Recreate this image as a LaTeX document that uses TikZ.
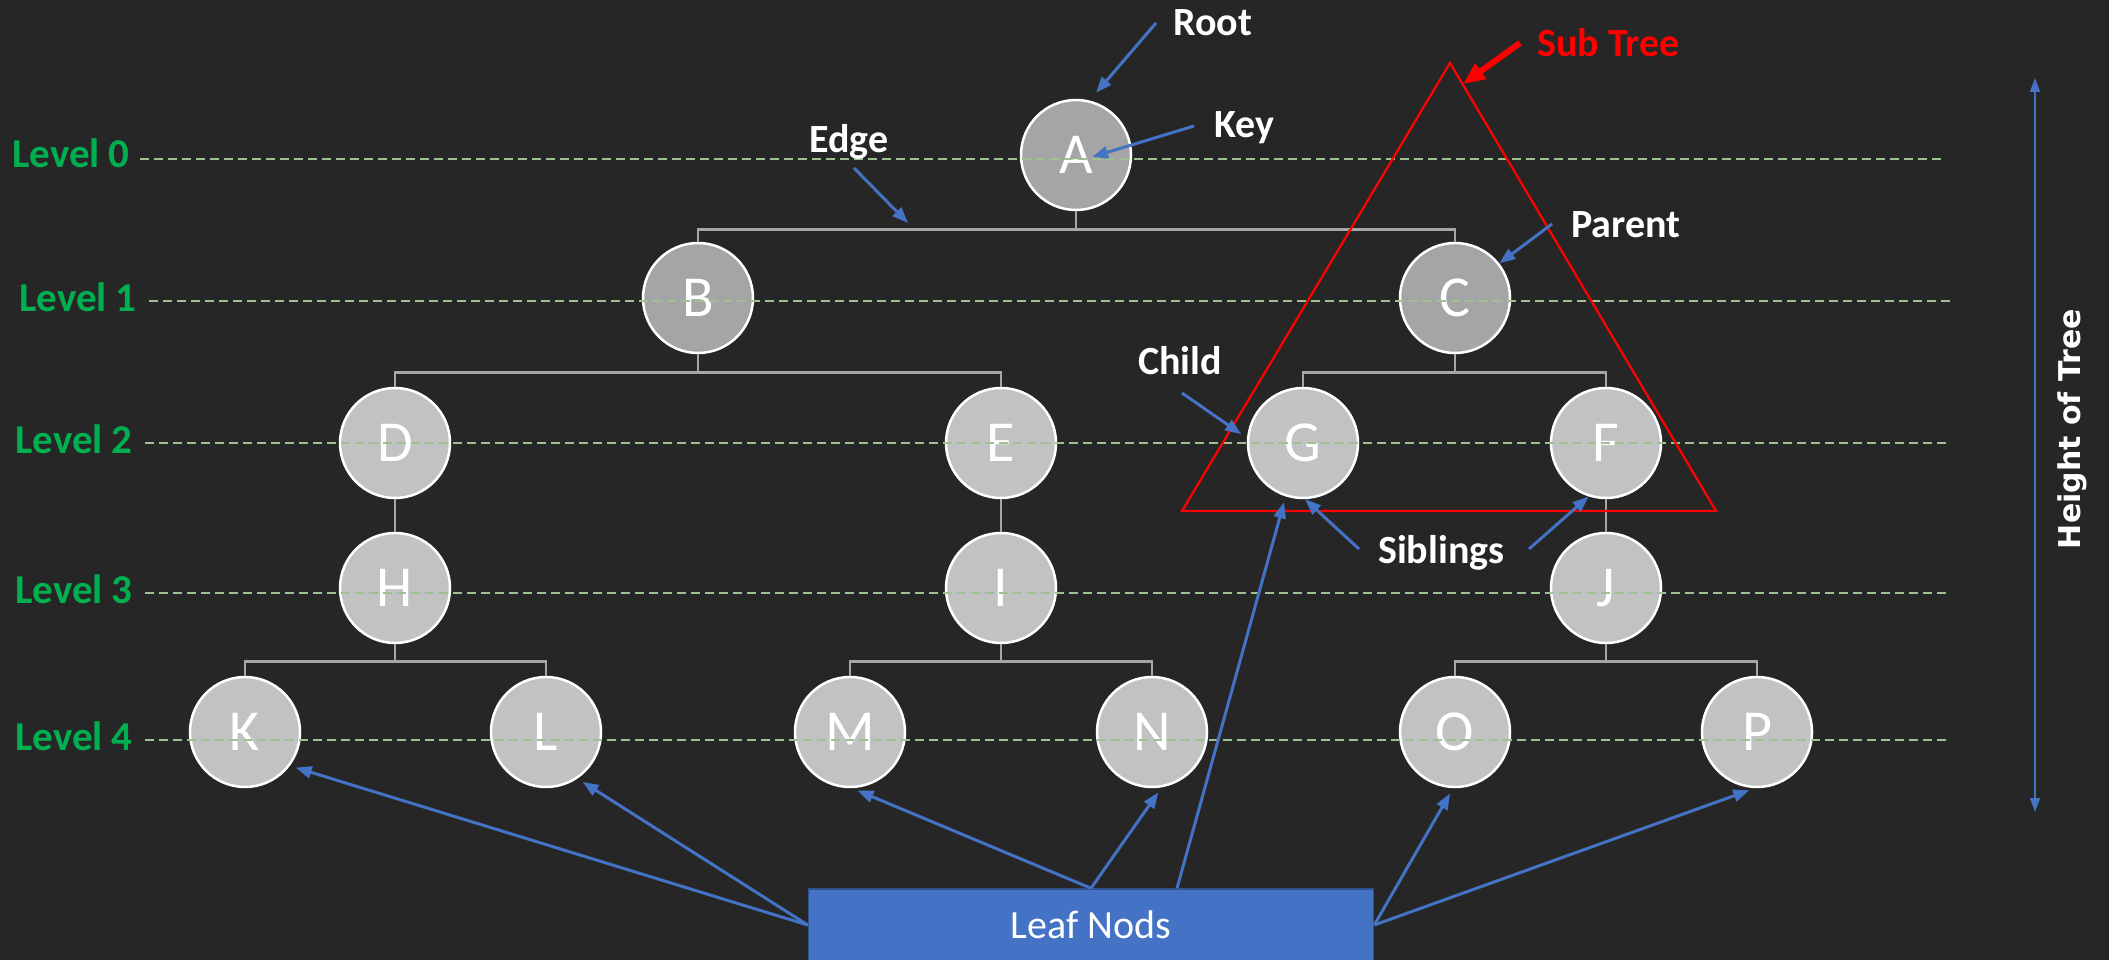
\documentclass[tikz,border=0pt]{standalone}
\usepackage{fontspec}
\setmainfont{Carlito}
\newfontfamily\htfont{DejaVu Sans}
\usetikzlibrary{arrows.meta,calc}
\definecolor{bg}{HTML}{262626}
\definecolor{annblue}{HTML}{4472C4}
\definecolor{lvlgreen}{HTML}{00B050}
\definecolor{dashgreen}{HTML}{9CC38F}
\definecolor{branchgray}{HTML}{A6A6A6}
\definecolor{darkfill}{HTML}{A5A5A5}
\definecolor{lightfill}{HTML}{C2C2C2}
\definecolor{boxblue}{HTML}{4472C4}
\definecolor{boxedge}{HTML}{2F528F}
\tikzset{
  tnode/.style={circle, minimum size=110pt, inner sep=0pt, draw=white, line width=2.5pt,
    fill=lightfill, text=white, font=\fontsize{58}{58}\selectfont},
  tnodedark/.style={tnode, fill=darkfill},
  branch/.style={draw=branchgray, line width=2.5pt},
  levelline/.style={draw=dashgreen, line width=1.3pt, dash pattern=on 9pt off 5pt},
  lvllabel/.style={anchor=base east, inner sep=0pt, text=lvlgreen, font=\fontsize{41}{41}\selectfont\bfseries},
  annlabel/.style={anchor=base west, inner sep=0pt, text=white, font=\fontsize{40}{40}\selectfont\bfseries},
  ann/.style={draw=annblue, line width=3pt, -{Triangle[length=16pt,width=12pt]}},
  leafarrow/.style={ann, shorten >=6pt},
}
\begin{document}
\begin{tikzpicture}[x=1pt,y=-1pt]
\fill[bg] (0,0) rectangle (2109,960);
\useasboundingbox (0,0) rectangle (2109,960);

% tree nodes
\node[tnodedark] (A) at (1076,155) {A};
\node[tnodedark] (B) at (698,298) {B};
\node[tnodedark] (C) at (1455,298) {C};
\node[tnode] (D) at (395,443) {D};
\node[tnode] (E) at (1001,443) {E};
\node[tnode] (G) at (1303,443) {G};
\node[tnode] (F) at (1606,443) {F};
\node[tnode] (H) at (395,588) {H};
\node[tnode] (I) at (1001,588) {I};
\node[tnode] (J) at (1606,588) {J};
\node[tnode] (K) at (245,732) {K};
\node[tnode] (L) at (546,732) {L};
\node[tnode] (M) at (850,732) {M};
\node[tnode] (N) at (1152,732) {N};
\node[tnode] (O) at (1455,732) {O};
\node[tnode] (P) at (1757,732) {P};

% branches
\draw[branch] (A.south) -- ++(0,18) -| (B.north);
\draw[branch] (A.south) -- ++(0,18) -| (C.north);
\draw[branch] (B.south) -- ++(0,18) -| (D.north);
\draw[branch] (B.south) -- ++(0,18) -| (E.north);
\draw[branch] (C.south) -- ++(0,18) -| (G.north);
\draw[branch] (C.south) -- ++(0,18) -| (F.north);
\draw[branch] (D.south) -- (H.north);
\draw[branch] (E.south) -- (I.north);
\draw[branch] (F.south) -- (J.north);
\draw[branch] (H.south) -- ++(0,17) -| (K.north);
\draw[branch] (H.south) -- ++(0,17) -| (L.north);
\draw[branch] (I.south) -- ++(0,17) -| (M.north);
\draw[branch] (I.south) -- ++(0,17) -| (N.north);
\draw[branch] (J.south) -- ++(0,17) -| (O.north);
\draw[branch] (J.south) -- ++(0,17) -| (P.north);

% level labels and dashed lines
\node[lvllabel] (l0) at (130,168) {Level 0};
\node[lvllabel] (l1) at (137,311) {Level 1};
\node[lvllabel] (l2) at (133,453) {Level 2};
\node[lvllabel] (l3) at (133,603) {Level 3};
\node[lvllabel] (l4) at (133,750) {Level 4};
\coordinate (e0) at (1944,159);
\coordinate (e1) at (1951,301);
\coordinate (e2) at (1948,443);
\coordinate (e3) at (1948,593);
\coordinate (e4) at (1948,740);
\draw[levelline] (140,159) -- (e0);
\draw[levelline] (149,301) -- (e1);
\draw[levelline] (145,443) -- (e2);
\draw[levelline] (145,593) -- (e3);
\draw[levelline] (145,740) -- (e4);

% sub tree triangle
\coordinate (tA) at (1450,63);
\coordinate (tL) at (1182,511);
\coordinate (tR) at (1716,511);
\draw[red, line width=2.3pt, line join=miter] (tA) -- (tL) -- (tR) -- cycle;

% annotation labels
\node[annlabel] (root) at (1173,36) {Root};
\node[annlabel] (key) at (1214,138) {Key};
\node[annlabel] (edge) at (809,153) {Edge};
\node[annlabel, text=red] (subtree) at (1537,57) {Sub Tree};
\node[annlabel] (parent) at (1571,237) {Parent};
\node[annlabel] (child) at (1138,374) {Child};
\node[annlabel] (sibl) at (1378,563) {Siblings};

% annotation arrows
\coordinate (rootS) at (1156,23);
\coordinate (keyS) at (1194,126);
\coordinate (keyT) at (1092,157);
\coordinate (edgeS) at (854,168);
\coordinate (edgeT) at (908,223);
\coordinate (subS) at (1520,43);
\coordinate (subT) at (1463,84);
\coordinate (parS) at (1552,224);
\coordinate (chS) at (1182,393);
\coordinate (sibS1) at (1359,549);
\coordinate (sibS2) at (1529,549);
\draw[ann, shorten >=10pt] (rootS) -- (A.76);
\draw[ann] (keyS) -- (keyT);
\draw[ann] (edgeS) -- (edgeT);
\draw[draw=red, line width=6pt, -{Triangle[length=22pt,width=18pt]}] (subS) -- (subT);
\draw[ann] (parS) -- (C.38);
\draw[ann, shorten >=7pt] (chS) -- (G.175);
\draw[ann] (sibS1) -- (G.-88);
\draw[ann] (sibS2) -- (F.-108);

% height of tree
\coordinate (htop) at (2035,78);
\coordinate (hbot) at (2035,812);
\draw[draw=annblue, line width=1.6pt, {Triangle[length=14pt,width=10pt]}-{Triangle[length=14pt,width=10pt]}] (htop) -- (hbot);
\node[rotate=90, text=white, inner sep=0pt, font=\htfont\fontsize{30}{30}\selectfont\bfseries] (height) at (2072,429) {Height of Tree};

% leaf nodes box
\node[draw=boxedge, line width=1.5pt, fill=boxblue, minimum width=565pt, minimum height=72pt, inner sep=0pt,
  text=white, font=\fontsize{40}{40}\selectfont] (leaf) at (1091,925) {Leaf Nods};
\draw[leafarrow] (leaf.west) -- (K.-37);
\draw[leafarrow] (leaf.west) -- (L.-56);
\draw[leafarrow] (leaf.north) -- (M.-88);
\draw[leafarrow] (leaf.north) -- (N.-80);
\draw[leafarrow] ([xshift=86pt]leaf.north) -- (G.-108);
\draw[leafarrow] (leaf.east) -- (O.-92);
\draw[leafarrow] (leaf.east) -- (P.-92);
\end{tikzpicture}
\end{document}
